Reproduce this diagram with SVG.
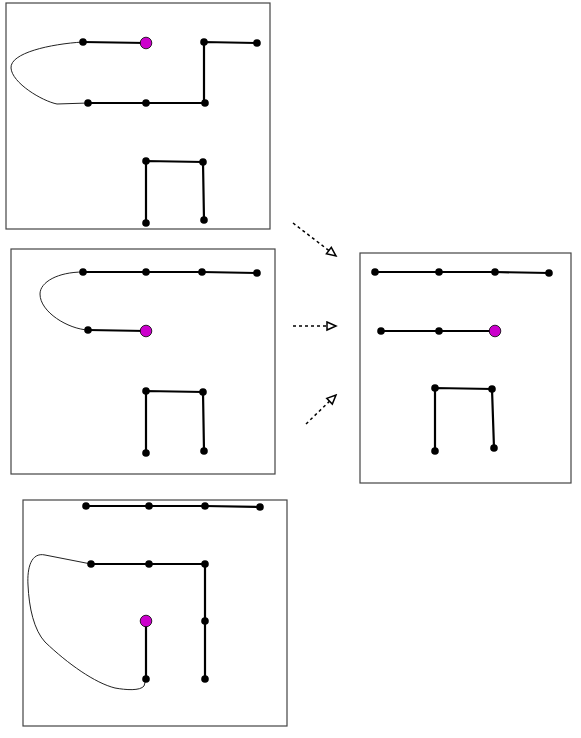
<svg xmlns="http://www.w3.org/2000/svg" width="581" height="738" viewBox="0 0 581 738">
<style>
.frame{fill:#fff;stroke:#444;stroke-width:1.2}
.e{stroke:#000;stroke-width:2.2;fill:none}
.c{stroke:#222;stroke-width:1;fill:none}
.n{fill:#000}
.m{fill:#cc00cc;stroke:#000;stroke-width:0.8}
.a{stroke:#000;stroke-width:1.5;stroke-dasharray:3,3;fill:none}
</style>
<defs>
<marker id="ah" markerWidth="13" markerHeight="11" refX="11" refY="5.5" orient="auto" markerUnits="userSpaceOnUse">
<path d="M2,1.5 L11,5.5 L2,9.5 Z" fill="#fff" stroke="#000" stroke-width="1.5"/>
</marker>
</defs>
<rect width="581" height="738" fill="#fff"/>
<g id="panel1">
<rect class="frame" x="6" y="3" width="264" height="226"/>
<path class="c" d="M83,42 C50,44 10,53 11,68 C12,83 42,101 57,104 L88,103"/>
<path class="e" d="M83,42 L146,43"/>
<path class="e" d="M257,43 L204,42 L204,103 L146,103 L88,103"/>
<path class="e" d="M146,223 L146,161 L203,162 L204,220"/>
<circle class="n" cx="83" cy="42" r="3.8"/>
<circle class="n" cx="204" cy="42" r="3.8"/>
<circle class="n" cx="257" cy="43" r="3.8"/>
<circle class="n" cx="88" cy="103" r="3.8"/>
<circle class="n" cx="146" cy="103" r="3.8"/>
<circle class="n" cx="205" cy="103" r="3.8"/>
<circle class="n" cx="146" cy="161" r="3.8"/>
<circle class="n" cx="203" cy="162" r="3.8"/>
<circle class="n" cx="146" cy="223" r="3.8"/>
<circle class="n" cx="204" cy="220" r="3.8"/>
<circle class="m" cx="146" cy="43" r="5.8"/>
</g>
<g id="panel2">
<rect class="frame" x="11" y="249" width="264" height="225"/>
<path class="c" d="M83,272 C58,272 40,282 40,294 C40,312 68,329 88,330"/>
<path class="e" d="M83,272 L146,272 L202,272 L257,273"/>
<path class="e" d="M88,330 L146,331"/>
<path class="e" d="M146,453 L146,391 L203,392 L204,451"/>
<circle class="n" cx="83" cy="272" r="3.8"/>
<circle class="n" cx="146" cy="272" r="3.8"/>
<circle class="n" cx="202" cy="272" r="3.8"/>
<circle class="n" cx="257" cy="273" r="3.8"/>
<circle class="n" cx="88" cy="330" r="3.8"/>
<circle class="n" cx="146" cy="391" r="3.8"/>
<circle class="n" cx="203" cy="392" r="3.8"/>
<circle class="n" cx="146" cy="453" r="3.8"/>
<circle class="n" cx="204" cy="451" r="3.8"/>
<circle class="m" cx="146" cy="331" r="5.8"/>
</g>
<g id="panel3">
<rect class="frame" x="23" y="500" width="264" height="226"/>
<path class="c" d="M91,564 L45,555 C31,552 27,568 28,585 C29,608 34,630 45,642 C68,664 95,683 115,688 C126,690 140,691 144,686 L146,679"/>
<path class="e" d="M86,506 L149,506 L205,506 L260,507"/>
<path class="e" d="M91,564 L149,564 L205,564 L205,621 L205,679"/>
<path class="e" d="M146,621 L146,679"/>
<circle class="n" cx="86" cy="506" r="3.8"/>
<circle class="n" cx="149" cy="506" r="3.8"/>
<circle class="n" cx="205" cy="506" r="3.8"/>
<circle class="n" cx="260" cy="507" r="3.8"/>
<circle class="n" cx="91" cy="564" r="3.8"/>
<circle class="n" cx="149" cy="564" r="3.8"/>
<circle class="n" cx="205" cy="564" r="3.8"/>
<circle class="n" cx="205" cy="621" r="3.8"/>
<circle class="n" cx="146" cy="679" r="3.8"/>
<circle class="n" cx="205" cy="679" r="3.8"/>
<circle class="m" cx="146" cy="621" r="5.8"/>
</g>
<g id="panel4">
<rect class="frame" x="360" y="253" width="211" height="230"/>
<path class="e" d="M375,272 L439,272 L495,272 L549,273"/>
<path class="e" d="M381,331 L439,331 L495,331"/>
<path class="e" d="M435,451 L435,388 L492,389 L494,448"/>
<circle class="n" cx="375" cy="272" r="3.8"/>
<circle class="n" cx="439" cy="272" r="3.8"/>
<circle class="n" cx="495" cy="272" r="3.8"/>
<circle class="n" cx="549" cy="273" r="3.8"/>
<circle class="n" cx="381" cy="331" r="3.8"/>
<circle class="n" cx="439" cy="331" r="3.8"/>
<circle class="n" cx="435" cy="388" r="3.8"/>
<circle class="n" cx="492" cy="389" r="3.8"/>
<circle class="n" cx="435" cy="451" r="3.8"/>
<circle class="n" cx="494" cy="448" r="3.8"/>
<circle class="m" cx="495" cy="331" r="5.8"/>
</g>
<g id="connectors">
<path class="a" d="M293,223 L336,256" marker-end="url(#ah)"/>
<path class="a" d="M293,326 L336,326" marker-end="url(#ah)"/>
<path class="a" d="M306,424 L336,395" marker-end="url(#ah)"/>
</g>
</svg>
